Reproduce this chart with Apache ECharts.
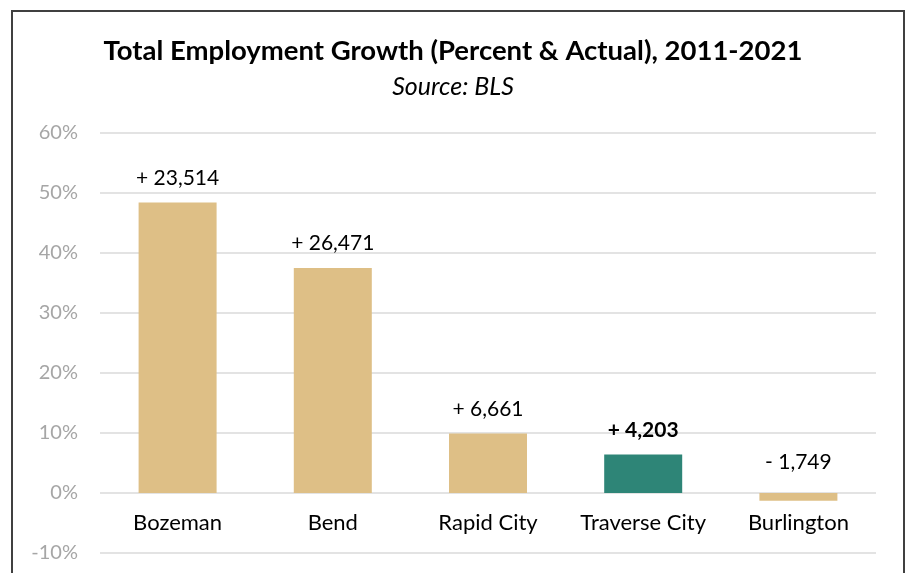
<!DOCTYPE html>
<html>
<head>
<meta charset="utf-8">
<script src="https://cdn.jsdelivr.net/npm/echarts@6/dist/echarts.min.js"></script>
<style>
  html, body { margin: 0; padding: 0; background: #fff; }
  #chart { width: 906px; height: 573px; }
</style>
</head>
<body>
<div id="chart"></div>
<script>
// Metro areas compared
const cities = ['Bozeman', 'Bend', 'Rapid City', 'Traverse City', 'Burlington'];
// Percent change in total employment, 2011-2021
const pctGrowth = [48.4, 37.5, 9.9, 6.4, -1.3];
// Actual change in number of jobs, 2011-2021
const jobsAdded = [23514, 26471, 6661, 4203, -1749];
// City shown in the highlight colour
const highlightCity = 'Traverse City';
// Value axis ticks (percent)
const yTicks = [-10, 0, 10, 20, 30, 40, 50, 60];

const TAN = '#DEBF86';
const TEAL = '#2E8577';
const GRID = '#E3E3E3';
const FONT = 'Lato, "Open Sans", sans-serif';

function signed(n) {
  const s = Math.abs(n).toLocaleString('en-US');
  return (n < 0 ? '- ' : '+ ') + s;
}

const barData = cities.map((c, i) => {
  const hi = c === highlightCity;
  const item = {
    value: pctGrowth[i],
    itemStyle: { color: hi ? TEAL : TAN },
    label: {
      fontWeight: hi ? 'bold' : 'normal',
      formatter: signed(jobsAdded[i])
    }
  };
  if (pctGrowth[i] < 0) {
    item.label.position = 'top';
    item.label.distance = 20;
  }
  return item;
});

const chart = echarts.init(document.getElementById('chart'), null, { renderer: 'canvas' });
chart.setOption({
  animation: false,
  backgroundColor: '#fff',
  title: {
    text: 'Total Employment Growth (Percent & Actual), 2011-2021',
    subtext: 'Source: BLS',
    left: 'center',
    top: 32,
    itemGap: 9,
    textStyle: { fontFamily: FONT, fontWeight: 'bold', fontSize: 27.5, color: '#000' },
    subtextStyle: { fontFamily: FONT, fontStyle: 'italic', fontSize: 25, color: '#000' }
  },
  grid: {
    left: 100, right: 30, top: 133, bottom: 20,
    containLabel: false,
    outerBoundsMode: 'none'
  },
  xAxis: {
    type: 'category',
    data: cities,
    // category names sit just under the 0% line, between 0% and -10%
    axisLine: { show: false, onZero: false },
    axisTick: { show: false },
    axisLabel: {
      interval: 0, hideOverlap: false,
      fontFamily: FONT, fontSize: 22, color: '#000', margin: -41
    }
  },
  yAxis: {
    type: 'value',
    min: yTicks[0],
    max: yTicks[yTicks.length - 1],
    interval: 10,
    axisLine: { show: false },
    axisTick: { show: false },
    splitLine: { lineStyle: { color: GRID, width: 2 } },
    axisLabel: {
      fontFamily: FONT, fontSize: 20, color: '#A6A6A6', margin: 22,
      formatter: v => v + '%'
    }
  },
  series: [{
    type: 'bar',
    data: barData,
    barWidth: 78,
    label: {
      show: true,
      position: 'top',
      distance: 14,
      fontFamily: FONT,
      fontSize: 21,
      color: '#000'
    }
  }],
  graphic: [{
    type: 'polyline',
    shape: { points: [[12, 573], [12, 11], [904, 11], [904, 573]] },
    style: { stroke: '#404040', lineWidth: 2, fill: null },
    silent: true
  }]
});
</script>
</body>
</html>
